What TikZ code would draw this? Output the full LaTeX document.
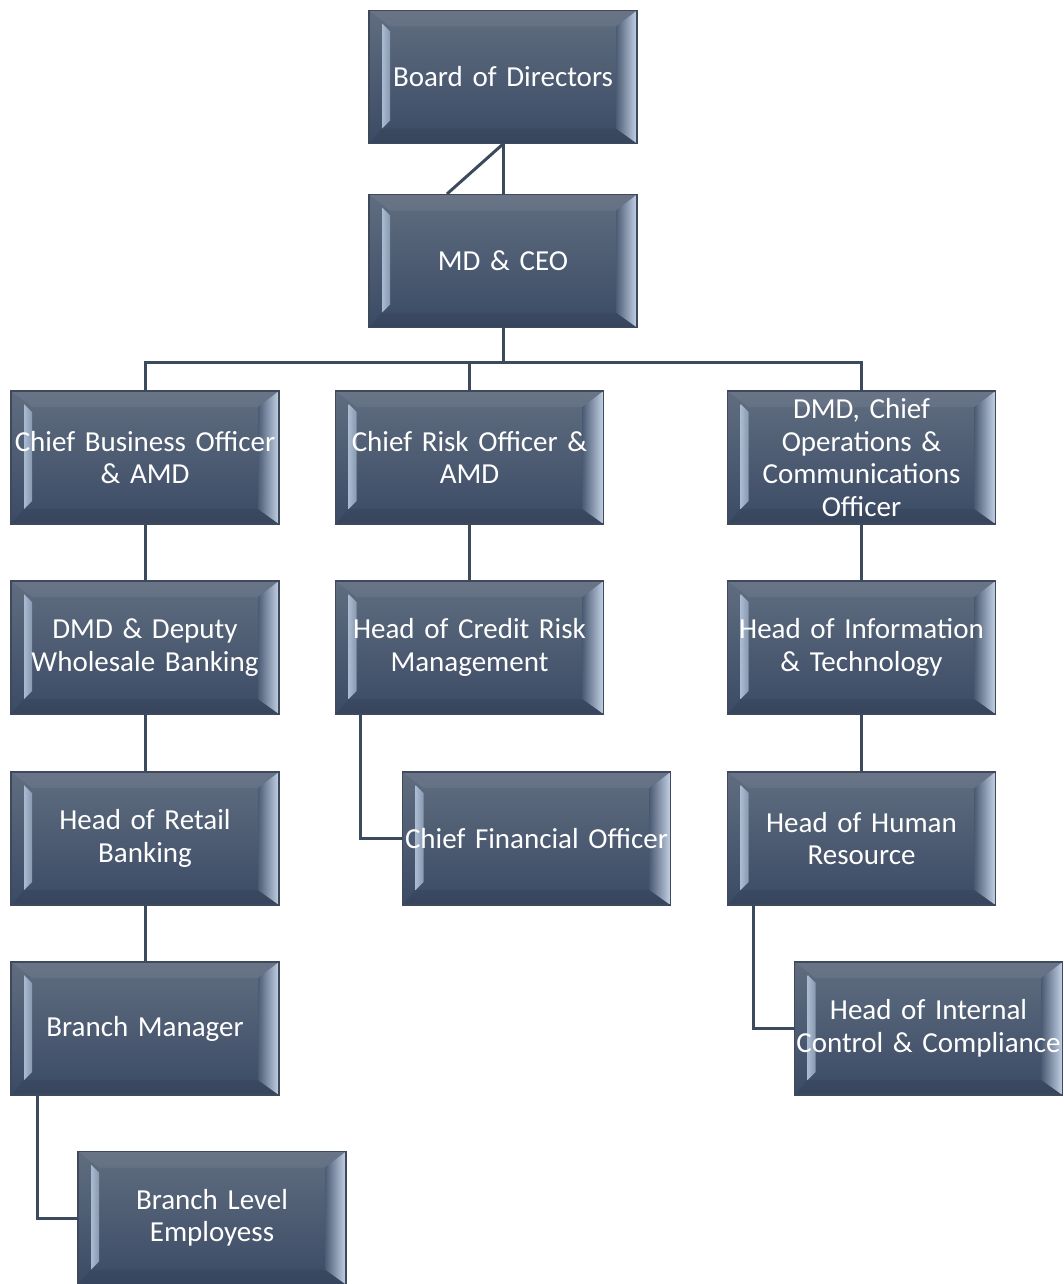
\documentclass[tikz,border=0pt]{standalone}
\usepackage{fontspec}
\setmainfont{Carlito}
\usetikzlibrary{calc}
\definecolor{boxtop}{HTML}{606D80}
\definecolor{boxbot}{HTML}{3B4B65}
\definecolor{boxline}{HTML}{3E4A5B}
\definecolor{connc}{HTML}{3C4A5E}
\definecolor{bevlight}{HTML}{C4D2E6}
\definecolor{bevmid}{HTML}{4C5C74}
\definecolor{stripe}{HTML}{AABAD0}
\tikzset{
  orgbox/.style={rectangle, minimum width=268, minimum height=133, inner sep=0pt,
    text width=268, align=center, draw=boxline, line width=1.1pt,
    top color=boxtop, bottom color=boxbot, text=white,
    font=\fontsize{29}{32.5}\selectfont,
    path picture={
      \fill[white, opacity=0.06] let \p1=(path picture bounding box.north west), \p2=(path picture bounding box.south east) in
        (\x1,\y1) -- (\x2,\y1) -- (\x2-21pt,\y1-16pt) -- (\x1+21pt,\y1-16pt) -- cycle;
      \fill[black, opacity=0.07] let \p1=(path picture bounding box.north west), \p2=(path picture bounding box.south east) in
        (\x1,\y2) -- (\x2,\y2) -- (\x2-21pt,\y2+15pt) -- (\x1+13pt,\y2+15pt) -- cycle;
      \shade[left color=bevmid, right color=bevlight] let \p1=(path picture bounding box.north west), \p2=(path picture bounding box.south east) in
        (\x2,\y1) -- (\x2,\y2) -- (\x2-21pt,\y2+15pt) -- (\x2-21pt,\y1-16pt) -- cycle;
      \shade[left color=stripe, right color=stripe!70!boxbot] let \p1=(path picture bounding box.north west), \p2=(path picture bounding box.south east) in
        (\x1+13pt,\y1-13pt) -- (\x1+21pt,\y1-21pt) -- (\x1+21pt,\y2+23pt) -- (\x1+13pt,\y2+15pt) -- cycle;
    }},
  conn/.style={draw=connc, line width=3pt}
}
\begin{document}
\begin{tikzpicture}[x=1pt,y=-1pt]
\useasboundingbox[fill=white] (0,0) rectangle (1064,1284);

\node[orgbox] (board) at (503,77) {Board of Directors};
\node[orgbox] (ceo) at (503,261) {MD \& CEO};
\node[orgbox] (cbo) at (145,457.5) {Chief Business Officer\\\& AMD};
\node[orgbox] (cro) at (469.5,457.5) {Chief Risk Officer \&\\AMD};
\node[orgbox] (dmd) at (861.5,457.5) {DMD, Chief\\Operations \&\\Communications\\Officer};
\node[orgbox] (deputy) at (145,647.5) {DMD \& Deputy\\Wholesale Banking};
\node[orgbox] (credit) at (469.5,647.5) {Head of Credit Risk\\Management};
\node[orgbox] (info) at (861.5,647.5) {Head of Information\\\& Technology};
\node[orgbox] (retail) at (145,838.5) {Head of Retail\\Banking};
\node[orgbox] (cfo) at (536.5,838.5) {Chief Financial Officer};
\node[orgbox] (hr) at (861.5,838.5) {Head of Human\\Resource};
\node[orgbox] (branch) at (145,1028.5) {Branch Manager};
\node[orgbox] (internal) at (928.5,1028.5) {Head of Internal\\Control \& Compliance};
\node[orgbox] (employees) at (212,1218) {Branch Level\\Employess};

\coordinate (bus) at (503,362);
\draw[conn] (board.south) -- (ceo.north);
\draw[conn] (board.south) -- ([xshift=-56pt]ceo.north);
\draw[conn] (ceo.south) -- (bus);
\draw[conn] (cbo.north) |- (bus) -| (dmd.north);
\draw[conn] (cro.north) -- (cro.north |- bus);
\draw[conn] (cbo.south) -- (deputy.north);
\draw[conn] (deputy.south) -- (retail.north);
\draw[conn] (retail.south) -- (branch.north);
\draw[conn] (cro.south) -- (credit.north);
\draw[conn] (dmd.south) -- (info.north);
\draw[conn] (info.south) -- (hr.north);
\draw[conn] ([xshift=26pt]credit.south west) |- (cfo.west);
\draw[conn] ([xshift=27pt]hr.south west) |- (internal.west);
\draw[conn] ([xshift=27pt]branch.south west) |- (employees.west);
\end{tikzpicture}
\end{document}
